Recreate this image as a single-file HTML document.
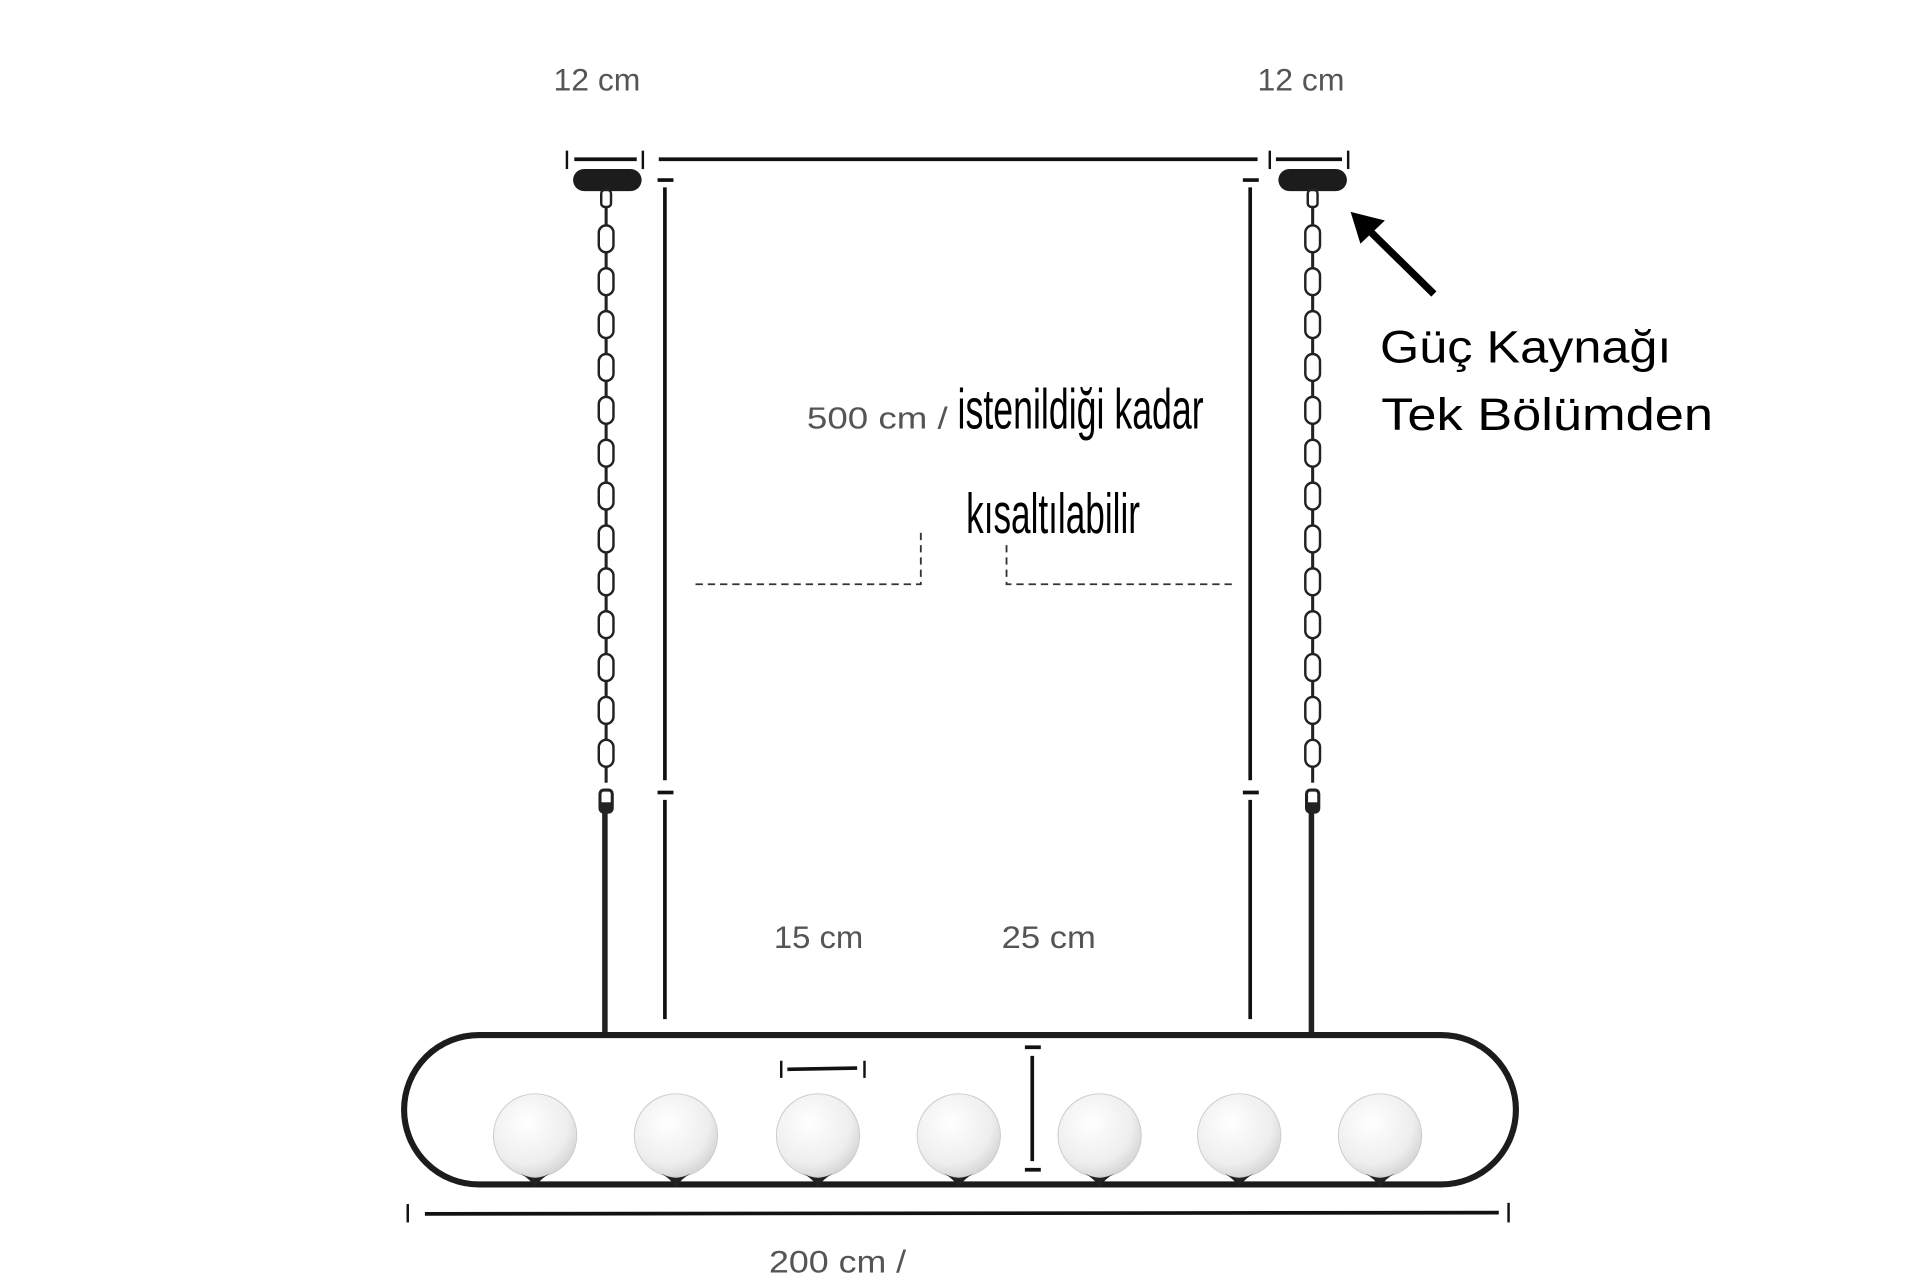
<!DOCTYPE html>
<html><head><meta charset="utf-8"><style>
html,body{margin:0;padding:0;background:#fff;}
svg{display:block;}
</style></head><body>
<svg width="1920" height="1280" viewBox="0 0 1568 1045" preserveAspectRatio="none" xmlns="http://www.w3.org/2000/svg">
<defs>
<radialGradient id="g" cx="0.4" cy="0.35" r="0.7">
<stop offset="0" stop-color="#ffffff"/><stop offset="0.7" stop-color="#eeeeee"/><stop offset="1" stop-color="#d2d2d2"/>
</radialGradient>
<g id="link"><rect x="-6" y="-11" width="12" height="22" rx="6" fill="none" stroke="#222" stroke-width="2"/><line x1="0" y1="11" x2="0" y2="24" stroke="#222" stroke-width="2.5"/></g>
<g id="globe"><circle cx="0" cy="0" r="34" fill="url(#g)" stroke="#ccc" stroke-width="0.8"/><path d="M-12,31 Q0,38 12,31 Q4,36 1,41 L-1,41 Q-4,36 -12,31Z" fill="#222"/></g>
</defs>
<rect width="1568" height="1045" fill="#fff"/>
<g font-family="Liberation Sans, sans-serif" fill="#555">
<text x="452" y="74" font-size="26" textLength="71" lengthAdjust="spacingAndGlyphs">12 cm</text>
<text x="1027" y="74" font-size="26" textLength="71" lengthAdjust="spacingAndGlyphs">12 cm</text>
<text x="659" y="350" font-size="25" textLength="115" lengthAdjust="spacingAndGlyphs">500 cm /</text>
<text x="632" y="774" font-size="26" textLength="73" lengthAdjust="spacingAndGlyphs">15 cm</text>
<text x="818" y="774" font-size="26" textLength="77" lengthAdjust="spacingAndGlyphs">25 cm</text>
<text x="628" y="1039" font-size="26" textLength="112" lengthAdjust="spacingAndGlyphs">200 cm /</text>
</g>
<g font-family="Liberation Sans, sans-serif" fill="#000">
<text x="782" y="350" font-size="46" textLength="201" lengthAdjust="spacingAndGlyphs">istenildiği kadar</text>
<text x="789" y="435" font-size="46" textLength="142" lengthAdjust="spacingAndGlyphs">kısaltılabilir</text>
<text x="1127" y="296" font-size="37" textLength="238" lengthAdjust="spacingAndGlyphs">Güç Kaynağı</text>
<text x="1128" y="351" font-size="37" textLength="271" lengthAdjust="spacingAndGlyphs">Tek Bölümden</text>
</g>
<g stroke="#111" fill="none">
<line x1="463" y1="123" x2="463" y2="138" stroke-width="2"/><line x1="469" y1="130" x2="520" y2="130" stroke-width="3"/><line x1="525" y1="123" x2="525" y2="138" stroke-width="2"/>
<line x1="538" y1="130" x2="1027" y2="130" stroke-width="3"/>
<line x1="1037" y1="123" x2="1037" y2="138" stroke-width="2"/><line x1="1042" y1="130" x2="1096" y2="130" stroke-width="3"/><line x1="1101" y1="123" x2="1101" y2="138" stroke-width="2"/>
<line x1="537" y1="147" x2="550" y2="147" stroke-width="3"/><line x1="543" y1="153" x2="543" y2="637" stroke-width="3"/>
<line x1="537" y1="647" x2="550" y2="647" stroke-width="3"/><line x1="543" y1="653" x2="543" y2="832" stroke-width="3"/>
<line x1="1015" y1="147" x2="1028" y2="147" stroke-width="3"/><line x1="1021" y1="153" x2="1021" y2="637" stroke-width="3"/>
<line x1="1015" y1="647" x2="1028" y2="647" stroke-width="3"/><line x1="1021" y1="653" x2="1021" y2="832" stroke-width="3"/>
</g>
<g stroke="#333" stroke-width="1.5" stroke-dasharray="6,4" fill="none">
<polyline points="568,477 752,477 752,433"/>
<polyline points="822,445 822,477 1007,477"/>
</g>
<rect x="468" y="138" width="56" height="18" rx="9" fill="#1c1c1c"/>
<rect x="1044" y="138" width="56" height="18" rx="9" fill="#1c1c1c"/>
<g id="chainL" transform="translate(495,0)">
<rect x="-4" y="155" width="8" height="14" rx="3" fill="none" stroke="#222" stroke-width="2"/>
<line x1="0" y1="169" x2="0" y2="184" stroke="#222" stroke-width="2.5"/>
<use href="#link" y="195"/><use href="#link" y="230"/><use href="#link" y="265"/><use href="#link" y="300"/>
<use href="#link" y="335"/><use href="#link" y="370"/><use href="#link" y="405"/><use href="#link" y="440"/>
<use href="#link" y="475"/><use href="#link" y="510"/><use href="#link" y="545"/><use href="#link" y="580"/><use href="#link" y="615"/>
<rect x="-5" y="645" width="10" height="18" rx="3" fill="none" stroke="#222" stroke-width="2.5"/>
<rect x="-5" y="655" width="10" height="8" fill="#222"/>
<line x1="-1" y1="663" x2="-1" y2="845" stroke="#222" stroke-width="4.5"/>
</g>
<use href="#chainL" x="577"/>
<rect x="330" y="845" width="908" height="122" rx="61" fill="none" stroke="#1c1c1c" stroke-width="5"/>
<use href="#globe" x="437" y="927"/><use href="#globe" x="552" y="927"/><use href="#globe" x="668" y="927"/>
<use href="#globe" x="783" y="927"/><use href="#globe" x="898" y="927"/><use href="#globe" x="1012" y="927"/><use href="#globe" x="1127" y="927"/>
<g stroke="#111" fill="none">
<line x1="638" y1="866" x2="638" y2="880" stroke-width="2"/><line x1="643" y1="873" x2="700" y2="872" stroke-width="3"/><line x1="706" y1="866" x2="706" y2="880" stroke-width="2"/>
<line x1="837" y1="855" x2="850" y2="855" stroke-width="3"/><line x1="843" y1="862" x2="843" y2="948" stroke-width="3"/><line x1="837" y1="955" x2="850" y2="955" stroke-width="3"/>
<line x1="333" y1="983" x2="333" y2="998" stroke-width="2"/><line x1="347" y1="991" x2="1224" y2="990" stroke-width="3"/><line x1="1232" y1="982" x2="1232" y2="998" stroke-width="2"/>
</g>
<line x1="1171" y1="240" x2="1118" y2="188" stroke="#000" stroke-width="6"/>
<polygon points="1103,173 1131,180 1111,199" fill="#000"/>
</svg>
</body></html>
